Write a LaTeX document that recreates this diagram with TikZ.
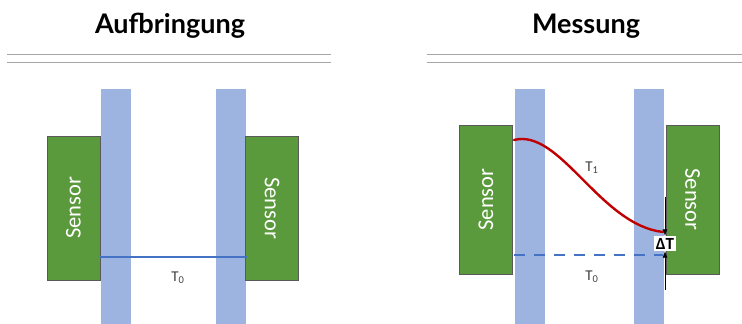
\documentclass[tikz,border=0pt]{standalone}
\usepackage{fontspec}
\setmainfont{Carlito}
\newfontfamily\titlefont{Lato}
\usepackage{tikz}
\usetikzlibrary{arrows.meta}

\definecolor{barblue}{HTML}{9CB4DF}
\definecolor{lineblue}{HTML}{4472C4}
\definecolor{sensgreen}{HTML}{5B9A3C}
\definecolor{sensedge}{HTML}{595959}
\definecolor{rulegray}{HTML}{A6A6A6}
\definecolor{labelgray}{HTML}{404040}
\definecolor{curvered}{HTML}{C00000}

\tikzset{
	bar/.style={shape=rectangle, fill=barblue, draw=none, minimum width=30pt, minimum height=235pt, inner sep=0pt},
	sensorbox/.style={shape=rectangle, fill=sensgreen, draw=sensedge, line width=0.8pt, minimum width=53pt, minimum height=#1, inner sep=0pt, text=white, font=\fontsize{22.5}{22.5}\selectfont},
	title/.style={font=\titlefont\bfseries\fontsize{27}{27}\selectfont, anchor=base},
	temp/.style={text=labelgray, font=\fontsize{15}{15}\selectfont},
	rule/.style={draw=rulegray, line width=0.9pt},
	dtarrow/.style={-{Latex[length=7pt, width=5pt]}, line width=0.9pt, black}
}

\begin{document}
\begin{tikzpicture}[x=1pt, y=-1pt]
	\useasboundingbox (0,0) rectangle (742,324);
	% Titles and double rules:
	\node[title] (tA) at (170,33.5) {Aufbringung};
	\node[title] (tM) at (586,33.5) {Messung};
	\coordinate (rA1) at (7,54.5);   \coordinate (rA2) at (331,54.5);
	\coordinate (rA3) at (7,62);     \coordinate (rA4) at (331,62);
	\coordinate (rM1) at (427,54.5); \coordinate (rM2) at (742,54.5);
	\coordinate (rM3) at (427,62);   \coordinate (rM4) at (742,62);
	\draw[rule] (rA1) -- (rA2);
	\draw[rule] (rA3) -- (rA4);
	\draw[rule] (rM1) -- (rM2);
	\draw[rule] (rM3) -- (rM4);
	% Left: Aufbringung
	\node[bar] (barA1) at (115.5,206.5){};
	\node[bar] (barA2) at (230.5,206.5){};
	\node[sensorbox=144pt] (sA1) at (73.5,208){\rotatebox{90}{Sensor}};
	\node[sensorbox=144pt] (sA2) at (272,208){\rotatebox{-90}{Sensor}};
	\coordinate (t0A1) at (100,257);
	\coordinate (t0A2) at (247,257);
	\draw[lineblue, line width=2.2pt] (t0A1) -- (t0A2);
	\node[temp] (lA0) at (178,278){T\textsubscript{0}};
	% Right: Messung
	\node[bar] (barM1) at (530,206.5){};
	\node[bar] (barM2) at (648.5,206.5){};
	\node[sensorbox=149pt] (sM1) at (486,199.5){\rotatebox{90}{Sensor}};
	\node[sensorbox=149pt] (sM2) at (692.5,199.5){\rotatebox{-90}{Sensor}};
	\coordinate (t0M1) at (514,255);
	\coordinate (t0M2) at (663,255);
	\draw[lineblue, line width=2.2pt, dash pattern=on 11pt off 9pt] (t0M1) -- (t0M2);
	\node[temp] (lM0) at (592,277){T\textsubscript{0}};
	\coordinate (t1M1) at (514,140);
	\coordinate (t1M2) at (663,232);
	\draw[curvered, line width=2.4pt, line cap=round] (t1M1) .. controls (560,128) and (600,225) .. (t1M2);
	\node[temp] (lM1) at (592,168){T\textsubscript{1}};
	\node[shape=rectangle, fill=white, inner sep=1.5pt, font=\bfseries\fontsize{17}{17}\selectfont] (dT) at (665,243.5){ΔT};
	\coordinate (dTtop) at (665,197);
	\coordinate (dTbot) at (665,290);
	\draw[dtarrow] (dTtop) -- (dT.north);
	\draw[dtarrow] (dTbot) -- (dT.south);
\end{tikzpicture}
\end{document}
